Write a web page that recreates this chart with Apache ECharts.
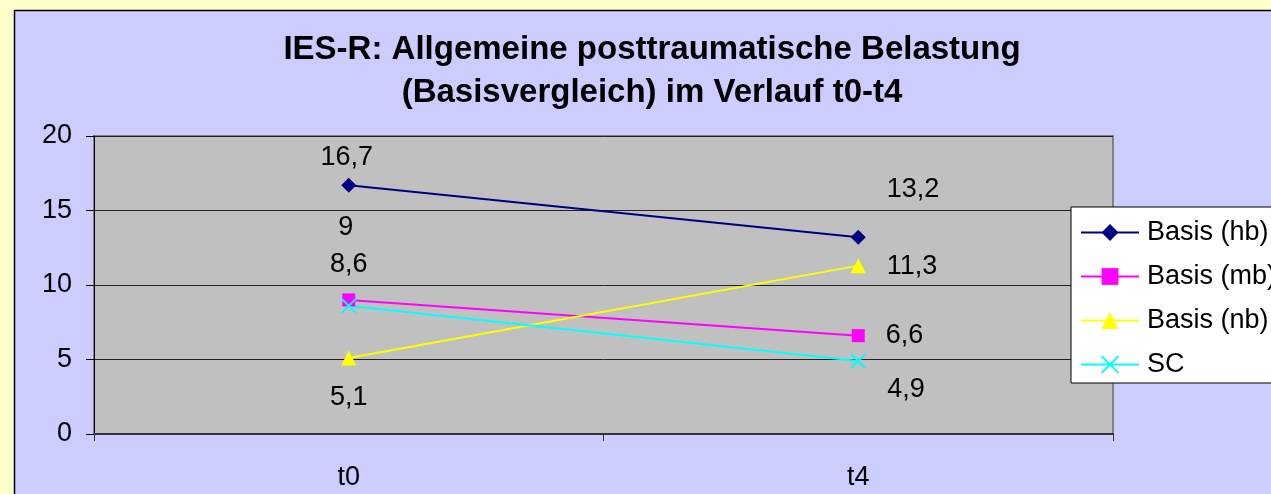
<!DOCTYPE html>
<html>
<head>
<meta charset="utf-8">
<script src="https://cdn.jsdelivr.net/npm/echarts@6/dist/echarts.min.js"></script>
<style>html,body{margin:0;padding:0;background:#FFFFCC;}#c{width:1271px;height:494px;}</style>
</head>
<body>
<div id="c"></div>
<script>
const categories = ['t0', 't4'];
const seriesNames = ['Basis (hb)', 'Basis (mb)', 'Basis (nb)', 'SC'];
const hb = [16.7, 13.2];
const mb = [9, 6.6];
const nb = [5.1, 11.3];
const sc = [8.6, 4.9];
const yTicks = [0, 5, 10, 15, 20];

const FONT = '"Liberation Sans", Arial, sans-serif';
const fmt = p => String(p.value).replace('.', ',');

// label placement per point: [t0 offset, t4 offset]
function items(vals, offs) {
  return vals.map((v, i) => ({
    value: v,
    label: i === 0
      ? { position: 'inside', offset: offs[0] }
      : { position: 'right', distance: 21, offset: offs[1] }
  }));
}

const chart = echarts.init(document.getElementById('c'));
const baseLabel = { show: true, formatter: fmt, color: '#000', fontSize: 27, fontFamily: FONT };

chart.setOption({
  animation: false,
  backgroundColor: '#FFFFCC',
  graphic: [{
    type: 'rect', z: -100, silent: true,
    shape: { x: 14.5, y: 10.5, width: 1400, height: 600 },
    style: { fill: '#CCCCFF', stroke: '#000', lineWidth: 1.5 }
  }],
  title: {
    text: 'IES-R: Allgemeine posttraumatische Belastung\n(Basisvergleich) im Verlauf t0-t4',
    left: 652, top: 28, padding: 0, textAlign: 'center',
    textStyle: { fontFamily: FONT, fontSize: 33, fontWeight: 'bold', color: '#000', lineHeight: 43 }
  },
  grid: {
    left: 94, right: 158, top: 136, bottom: 60,
    show: true, backgroundColor: '#C0C0C0', borderColor: '#808080', borderWidth: 2
  },
  legend: {
    orient: 'vertical', left: 1071, top: 207,
    backgroundColor: '#fff', borderColor: '#000', borderWidth: 1,
    padding: [12, 40, 5, 9],
    itemWidth: 58, itemHeight: 21, itemGap: 17,
    lineStyle: { width: 2 },
    textStyle: { fontFamily: FONT, fontSize: 27, color: '#000', padding: [0, 0, 0, 3] },
    data: seriesNames
  },
  xAxis: {
    type: 'category', data: categories, boundaryGap: true,
    axisLine: { lineStyle: { color: '#333', width: 2 } },
    axisTick: { show: true, length: 7, lineStyle: { color: '#333' } },
    axisLabel: { fontFamily: FONT, fontSize: 27, color: '#000', margin: 30 }
  },
  yAxis: {
    type: 'value', min: yTicks[0], max: yTicks[yTicks.length - 1], interval: 5,
    axisLine: { show: true, lineStyle: { color: '#000', width: 1 } },
    axisTick: { show: true, length: 8, lineStyle: { color: '#000' } },
    axisLabel: { fontFamily: FONT, fontSize: 27, color: '#000', margin: 22 },
    splitLine: { lineStyle: { color: '#222', width: 1 } }
  },
  series: [
    {
      name: seriesNames[0], type: 'line', data: items(hb, [[-2, -28], [0, -48]]),
      symbol: 'diamond', symbolSize: 15,
      lineStyle: { color: '#000080', width: 2 }, itemStyle: { color: '#000080' },
      label: baseLabel
    },
    {
      name: seriesNames[1], type: 'line', data: items(mb, [[-3, -72], [0, 0]]),
      symbol: 'rect', symbolSize: 13,
      lineStyle: { color: '#FF00FF', width: 2 }, itemStyle: { color: '#FF00FF' },
      label: baseLabel
    },
    {
      name: seriesNames[2], type: 'line', data: items(nb, [[0, 40], [0, 1]]),
      symbol: 'triangle', symbolSize: 15,
      lineStyle: { color: '#FFFF00', width: 2 }, itemStyle: { color: '#FFFF00' },
      label: baseLabel
    },
    {
      name: seriesNames[3], type: 'line', data: items(sc, [[0, -41], [0, 29]]),
      symbol: 'path://M0,0L10,10M10,0L0,10', symbolSize: 14,
      lineStyle: { color: '#00FFFF', width: 2 },
      itemStyle: { color: '#00FFFF', borderColor: '#00FFFF', borderWidth: 2 },
      label: baseLabel
    }
  ]
});
</script>
</body>
</html>
